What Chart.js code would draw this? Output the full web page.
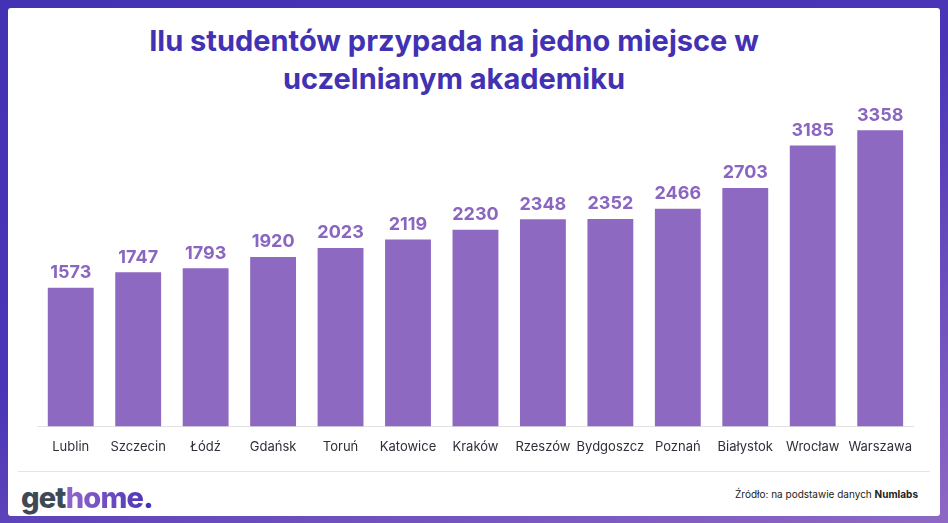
<!DOCTYPE html>
<html>
<head>
<meta charset="utf-8">
<script src="https://cdn.jsdelivr.net/npm/chart.js@4"></script>
<style>
  html, body { margin: 0; padding: 0; }
  body {
    width: 948px; height: 523px; position: relative; overflow: hidden;
    background: linear-gradient(160deg, #4432b4 0%, #4a35b6 45%, #8e68c4 100%);
    font-family: Poppins, Inter, "Noto Sans", sans-serif;
  }
  #panel {
    position: absolute; left: 8px; top: 8px; width: 932px; height: 508px;
    background: #fff; border-radius: 3px;
  }
  #title {
    position: absolute; left: 0; top: 14px; width: 892px; text-align: center;
    font-family: Inter, "Noto Sans", sans-serif; font-weight: 700; font-size: 29px;
    line-height: 38px; color: #4232b3; letter-spacing: 0px;
  }
  #wrap { position: absolute; left: 29px; top: 92px; width: 880px; height: 360px; }
  #divider { position: absolute; left: 10px; top: 463px; width: 912px; height: 1px; background: #e4e4e4; }
  #logo {
    position: absolute; left: 13px; top: 472px; font-family: Inter, "Noto Sans", sans-serif;
    font-weight: 800; font-size: 29px; letter-spacing: -0.8px; color: #3d4a56;
  }
  #logo .h {
    background: linear-gradient(90deg, #9366cc, #4f37b8);
    -webkit-background-clip: text; background-clip: text; color: transparent;
  }
  #logo .d { color: #4433b5; }
  #source {
    position: absolute; right: 22px; top: 480px; font-size: 10px; color: #222;
    font-family: Inter, "Noto Sans", sans-serif;
  }
</style>
</head>
<body>
<div id="panel">
  <div id="title">Ilu studentów przypada na jedno miejsce w<br>uczelnianym akademiku</div>
  <div id="wrap"><canvas id="myChart"></canvas></div>
  <div id="divider"></div>
  <div id="logo">get<span class="h">home</span><span class="d">.</span></div>
  <div id="source">Źródło: na podstawie danych <b>Numlabs</b></div>
</div>
<script>
const miasta = ['Lublin', 'Szczecin', 'Łódź', 'Gdańsk', 'Toruń', 'Katowice', 'Kraków',
  'Rzeszów', 'Bydgoszcz', 'Poznań', 'Białystok', 'Wrocław', 'Warszawa'];
const studenci = [1573, 1747, 1793, 1920, 2023, 2119, 2230, 2348, 2352, 2466, 2703, 3185, 3358];

// etykiety z wartościami nad słupkami
const etykiety = {
  id: 'etykiety',
  afterDatasetsDraw(chart) {
    const { ctx } = chart;
    const meta = chart.getDatasetMeta(0);
    ctx.save();
    ctx.font = 'bold 18px Inter, "Noto Sans", sans-serif';
    ctx.fillStyle = '#8a66c0';
    ctx.textAlign = 'center';
    ctx.textBaseline = 'bottom';
    meta.data.forEach((bar, i) => {
      ctx.fillText(studenci[i], bar.x, bar.y - 6);
    });
    ctx.restore();
  }
};

const ctx = document.getElementById('myChart').getContext('2d');
new Chart(ctx, {
  type: 'bar',
  data: {
    labels: miasta,
    datasets: [{
      data: studenci,
      backgroundColor: '#8e69c2',
      categoryPercentage: 1,
      barPercentage: 0.68
    }]
  },
  options: {
    responsive: true,
    maintainAspectRatio: false,
    animation: false,
    layout: { padding: 0 },
    plugins: {
      legend: { display: false },
      tooltip: { enabled: false }
    },
    scales: {
      x: {
        grid: { display: false },
        border: { display: true, color: '#e2e2e2', width: 1 },
        ticks: {
          color: '#2f2f3a',
          padding: 5,
          maxRotation: 0,
          autoSkip: false,
          font: { family: 'Inter, "Noto Sans", sans-serif', size: 13 }
        }
      },
      y: {
        display: false,
        min: 0,
        max: 3700
      }
    }
  },
  plugins: [etykiety]
});
</script>
</body>
</html>
